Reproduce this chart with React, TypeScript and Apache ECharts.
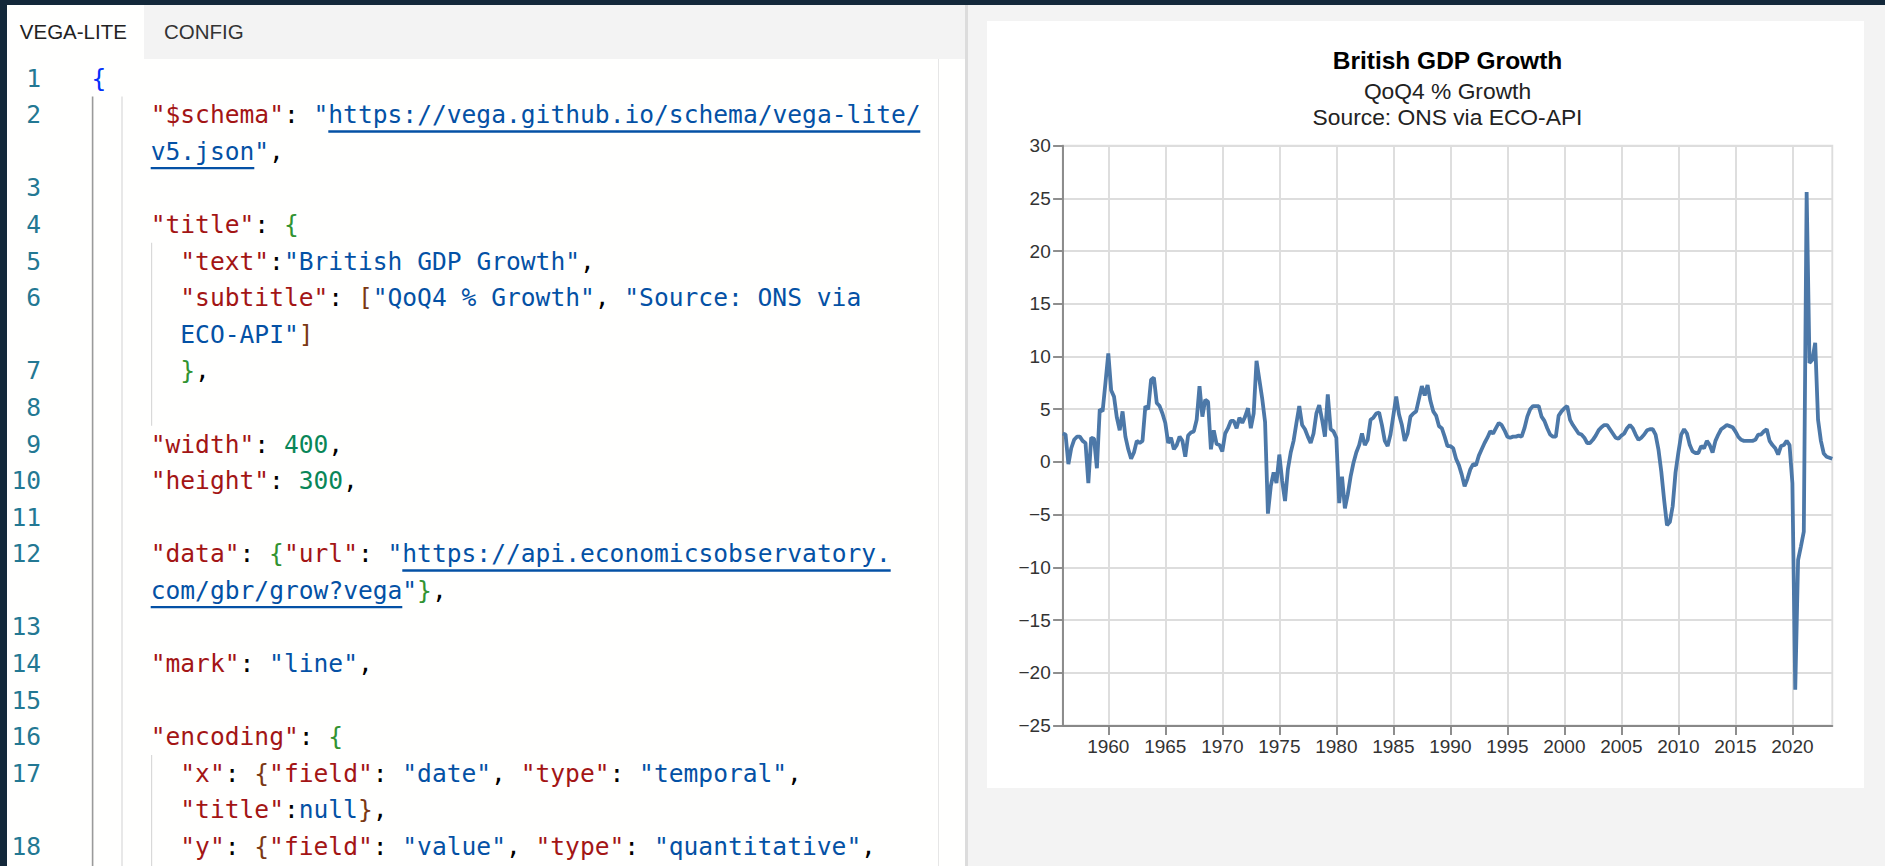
import React, { useEffect, useRef } from "react";
import * as echarts from "echarts";

// ---------------- data (UK GDP, year-on-year % growth, quarterly) ----------------
const START_YEAR = 1956; // first quarter: 1956 Q1
const GROWTH_1956_1959 = [2.7, 2.6, -0.2, 1.3, 2.1, 2.4, 2.4, 2.0, 1.8, -2.0, 2.3, 2.2, -0.6, 5.0, 4.8, 7.5];
const GROWTH_1960S = [
  10.3, 6.8, 6.2, 4.2, 3.0, 4.8, 2.4, 1.2, 0.3, 0.9, 2.0, 1.8, 2.0, 5.3, 5.0, 7.8, 8.0, 5.6, 5.3, 4.6,
  3.7, 1.8, 2.3, 1.2, 1.6, 2.4, 2.0, 0.5, 2.5, 2.8, 2.9, 4.0, 7.2, 4.3, 5.9, 5.7, 1.2, 3.0, 1.7, 1.6,
];
const GROWTH_1970S = [
  1.0, 2.7, 3.2, 3.9, 3.9, 3.2, 4.2, 3.7, 4.3, 5.1, 3.2, 4.6, 9.6, 7.8, 6.0, 3.8, -4.9, -2.3, -1.0, -2.0,
  0.7, -1.8, -3.7, -0.7, 0.9, 2.0, 3.7, 5.3, 3.5, 3.1, 2.4, 1.8, 2.7, 4.6, 5.4, 4.0, 2.4, 6.4, 3.1, 2.9,
];
const GROWTH_1980S = [
  2.3, -3.9, -1.4, -4.4, -3.1, -1.4, -0.1, 0.9, 1.6, 2.7, 1.6, 2.1, 4.0, 4.2, 4.6, 4.7, 3.5, 2.0, 1.5, 2.6,
  4.4, 6.2, 4.5, 3.5, 2.0, 2.7, 4.3, 4.6, 4.8, 6.0, 7.2, 6.3, 7.3, 5.8, 4.8, 4.4, 3.4, 3.2, 2.4, 1.5,
];
const GROWTH_1990S = [
  1.5, 1.3, 0.3, -0.3, -1.2, -2.3, -1.6, -0.7, -0.2, -0.3, 0.6, 1.2, 1.8, 2.3, 2.9, 2.7, 3.2, 3.7, 3.5, 3.0,
  2.4, 2.3, 2.4, 2.4, 2.5, 2.4, 3.2, 4.3, 5.0, 5.3, 5.3, 5.3, 4.3, 3.9, 3.2, 2.6, 2.4, 2.4, 4.4, 4.8,
];
const GROWTH_2000S = [
  5.1, 5.3, 4.0, 3.5, 3.1, 2.7, 2.6, 2.3, 1.8, 1.8, 2.1, 2.5, 3.0, 3.3, 3.5, 3.5, 3.1, 2.7, 2.3, 2.2,
  2.5, 2.7, 3.2, 3.5, 3.2, 2.6, 2.1, 2.3, 2.6, 3.0, 3.1, 3.1, 2.6, 1.2, -0.9, -3.6, -6.0, -5.7, -4.2, -1.0,
];
const GROWTH_2010S = [
  0.9, 2.6, 3.1, 2.7, 1.6, 1.0, 0.85, 0.85, 1.5, 1.3, 2.0, 1.6, 0.9, 2.0, 2.6, 3.1, 3.3, 3.5, 3.4, 3.3,
  2.9, 2.4, 2.1, 2.0, 2.0, 2.0, 2.0, 2.1, 2.6, 2.6, 2.9, 3.1, 2.0, 1.6, 1.3, 0.7, 1.5, 1.6, 2.0, 1.6,
];
const GROWTH_2020S = [-2.0, -21.6, -9.3, -8.0, -6.6, 25.6, 9.4, 9.7, 11.3, 4.0, 2.0, 0.8, 0.5, 0.4, 0.3];

const GDP_GROWTH = [
  ...GROWTH_1956_1959, ...GROWTH_1960S, ...GROWTH_1970S, ...GROWTH_1980S,
  ...GROWTH_1990S, ...GROWTH_2000S, ...GROWTH_2010S, ...GROWTH_2020S,
];

const X_TICKS = [1960, 1965, 1970, 1975, 1980, 1985, 1990, 1995, 2000, 2005, 2010, 2015, 2020];
const X_MIN = 1956;
const X_MAX = 2023.5;
const Y_MIN = -25;
const Y_MAX = 30;
const Y_STEP = 5;

const TITLE = "British GDP Growth";
const SUBTITLES = ["QoQ4 % Growth", "Source: ONS via ECO-API"];
const TABS = ["VEGA-LITE", "CONFIG"];

// ---------------- editor content ----------------
type Tok = [string, string];
const CODE_ROWS: { num: string; indent: number; toks: Tok[] }[] = [
  { num: "1", indent: 0, toks: [["{", "b1"]] },
  { num: "2", indent: 4, toks: [['"$schema"', "key"], [": ", "p"], ['"', "str"], ["https://vega.github.io/schema/vega-lite/", "url"]] },
  { num: "", indent: 4, toks: [["v5.json", "url"], ['"', "str"], [",", "p"]] },
  { num: "3", indent: 0, toks: [] },
  { num: "4", indent: 4, toks: [['"title"', "key"], [": ", "p"], ["{", "b2"]] },
  { num: "5", indent: 6, toks: [['"text"', "key"], [":", "p"], ['"British GDP Growth"', "str"], [",", "p"]] },
  { num: "6", indent: 6, toks: [['"subtitle"', "key"], [": ", "p"], ["[", "b3"], ['"QoQ4 % Growth"', "str"], [", ", "p"], ['"Source: ONS via', "str"]] },
  { num: "", indent: 6, toks: [['ECO-API"', "str"], ["]", "b3"]] },
  { num: "7", indent: 6, toks: [["}", "b2"], [",", "p"]] },
  { num: "8", indent: 0, toks: [] },
  { num: "9", indent: 4, toks: [['"width"', "key"], [": ", "p"], ["400", "num"], [",", "p"]] },
  { num: "10", indent: 4, toks: [['"height"', "key"], [": ", "p"], ["300", "num"], [",", "p"]] },
  { num: "11", indent: 0, toks: [] },
  { num: "12", indent: 4, toks: [['"data"', "key"], [": ", "p"], ["{", "b2"], ['"url"', "key"], [": ", "p"], ['"', "str"], ["https://api.economicsobservatory.", "url"]] },
  { num: "", indent: 4, toks: [["com/gbr/grow?vega", "url"], ['"', "str"], ["}", "b2"], [",", "p"]] },
  { num: "13", indent: 0, toks: [] },
  { num: "14", indent: 4, toks: [['"mark"', "key"], [": ", "p"], ['"line"', "str"], [",", "p"]] },
  { num: "15", indent: 0, toks: [] },
  { num: "16", indent: 4, toks: [['"encoding"', "key"], [": ", "p"], ["{", "b2"]] },
  { num: "17", indent: 6, toks: [['"x"', "key"], [": ", "p"], ["{", "b3"], ['"field"', "key"], [": ", "p"], ['"date"', "str"], [", ", "p"], ['"type"', "key"], [": ", "p"], ['"temporal"', "str"], [",", "p"]] },
  { num: "", indent: 6, toks: [['"title"', "key"], [":", "p"], ["null", "str"], ["}", "b3"], [",", "p"]] },
  { num: "18", indent: 6, toks: [['"y"', "key"], [": ", "p"], ["{", "b3"], ['"field"', "key"], [": ", "p"], ['"value"', "str"], [", ", "p"], ['"type"', "key"], [": ", "p"], ['"quantitative"', "str"], [",", "p"]] },
];

// ---------------- layout / style ----------------
const PAGE_W = 1885;
const PAGE_H = 866;
const DARK = "#13283a";
const SANS = '"Liberation Sans", Arial, Helvetica, sans-serif';
const MONO = '"DejaVu Sans Mono", "Liberation Mono", monospace';
const CODE_SIZE = 24.6;
const COL0 = 91.5;
const CW = 14.8;
const ROW0 = 78.1;
const ROWH = 36.59;
const TOKEN_COLORS: Record<string, string> = {
  key: "#a31515", str: "#0451a5", url: "#0451a5", num: "#098658", p: "#000000",
  b1: "#0431fa", b2: "#319331", b3: "#7b3814",
};

const PLOT = { left: 1062.7, top: 145.7, width: 769.6, height: 579.8 };

function txt(x: number, y: number, text: string, font: string, fill: string, align = "left", valign = "middle") {
  return {
    type: "text", x, y, silent: true,
    style: { text, font, fill, align, verticalAlign: valign, textAlign: align, textVerticalAlign: valign },
  };
}
function rect(x: number, y: number, w: number, h: number, fill: string) {
  return { type: "rect", silent: true, shape: { x, y, width: w, height: h }, style: { fill } };
}

function buildGraphics() {
  const els: any[] = [];
  // tabs
  els.push(txt(19.8, 31.7, TABS[0], `20.5px ${SANS}`, "#222"));
  els.push(txt(164, 31.7, TABS[1], `20.5px ${SANS}`, "#333"));
  // indent guides
  const rowTop = (k: number) => ROW0 + (k - 0.5) * ROWH;
  els.push(rect(COL0 + 0.3, rowTop(1), 1.6, PAGE_H - rowTop(1), "#9a9a9a"));
  els.push(rect(COL0 + 2 * CW + 0.3, rowTop(1), 1.2, PAGE_H - rowTop(1), "#d9d9d9"));
  els.push(rect(COL0 + 4 * CW + 0.3, rowTop(5), 1.2, rowTop(10) - rowTop(5), "#d9d9d9"));
  els.push(rect(COL0 + 4 * CW + 0.3, rowTop(19), 1.2, PAGE_H - rowTop(19), "#d9d9d9"));
  // code
  const codeFont = `${CODE_SIZE}px ${MONO}`;
  CODE_ROWS.forEach((row, k) => {
    const cy = ROW0 + k * ROWH;
    if (row.num) els.push(txt(41, cy, row.num, codeFont, "#237893", "right"));
    let col = row.indent;
    row.toks.forEach(([t, kind]) => {
      const x = COL0 + col * CW;
      els.push(txt(x, cy, t, codeFont, TOKEN_COLORS[kind]));
      if (kind === "url") els.push(rect(x, cy + 15.6, t.length * CW, 2.4, "#0451a5"));
      col += t.length;
    });
  });
  // chart titles
  const cx = PLOT.left + PLOT.width / 2;
  els.push(txt(cx, 60.9, TITLE, `bold 24.5px ${SANS}`, "#000", "center"));
  els.push(txt(cx, 90.6, SUBTITLES[0], `22.8px ${SANS}`, "#222", "center"));
  els.push(txt(cx, 117.3, SUBTITLES[1], `22.8px ${SANS}`, "#222", "center"));
  return els;
}

function fmtY(v: number) {
  return v < 0 ? "\u2212" + Math.abs(v) : String(v);
}

function buildOption(): any {
  const axisLineStyle = { color: "#888", width: 1.9 };
  const gridLineStyle = { color: "#ddd", width: 1.9 };
  const label = { fontSize: 19, color: "#333", fontFamily: SANS };
  return {
    animation: false,
    backgroundColor: "transparent",
    grid: {
      left: PLOT.left, top: PLOT.top, width: PLOT.width, height: PLOT.height,
      show: true, borderColor: "#ddd", borderWidth: 1.9, backgroundColor: "transparent",
      containLabel: false, outerBoundsMode: "none",
    },
    xAxis: {
      type: "value", min: X_MIN, max: X_MAX,
      axisLine: { show: true, onZero: false, lineStyle: axisLineStyle },
      axisTick: { show: true, length: 9.6, customValues: X_TICKS, lineStyle: axisLineStyle },
      axisLabel: { ...label, margin: 11, customValues: X_TICKS, formatter: (v: number) => String(Math.round(v)) },
      splitLine: { show: true, lineStyle: gridLineStyle },
    },
    yAxis: {
      type: "value", min: Y_MIN, max: Y_MAX, interval: Y_STEP,
      axisLine: { show: true, onZero: false, lineStyle: axisLineStyle },
      axisTick: { show: true, length: 9.6, lineStyle: axisLineStyle },
      axisLabel: { ...label, margin: 12, formatter: fmtY },
      splitLine: { show: true, lineStyle: gridLineStyle },
    },
    series: [
      {
        type: "line",
        data: GDP_GROWTH.map((v, i) => [START_YEAR + i / 4, v]),
        showSymbol: false,
        symbol: "none",
        lineStyle: { color: "#4c78a8", width: 3.8 },
        z: 3,
      },
    ],
    graphic: { elements: buildGraphics() },
  };
}

export default function App() {
  const ref = useRef<HTMLDivElement>(null);
  useEffect(() => {
    if (!ref.current) return;
    const chart = echarts.init(ref.current, null, { renderer: "svg", width: PAGE_W, height: PAGE_H });
    chart.setOption(buildOption());
    return () => chart.dispose();
  }, []);
  const box = (l: number, t: number, w: number, h: number, bg: string) => (
    <div style={{ position: "absolute", left: l, top: t, width: w, height: h, background: bg }} />
  );
  return (
    <div style={{ position: "fixed", left: 0, top: 0, width: PAGE_W, height: PAGE_H, overflow: "hidden", background: "#f3f3f3" }}>
      {box(0, 0, PAGE_W, 5, DARK)}
      {box(0, 0, 7, PAGE_H, DARK)}
      {box(7, 5, 958, 54, "#f3f3f3")}
      {box(7, 5, 137, 54, "#fffffe")}
      {box(7, 59, 958, PAGE_H - 59, "#fffffe")}
      {box(938, 59, 1, PAGE_H - 59, "#e6e6e6")}
      {box(965, 5, 3, PAGE_H - 5, "#dcdcdc")}
      {box(968, 5, PAGE_W - 968, PAGE_H - 5, "#f3f3f3")}
      {box(987, 21, 877, 767, "#ffffff")}
      <div ref={ref} style={{ position: "absolute", left: 0, top: 0, width: PAGE_W, height: PAGE_H }} />
    </div>
  );
}
